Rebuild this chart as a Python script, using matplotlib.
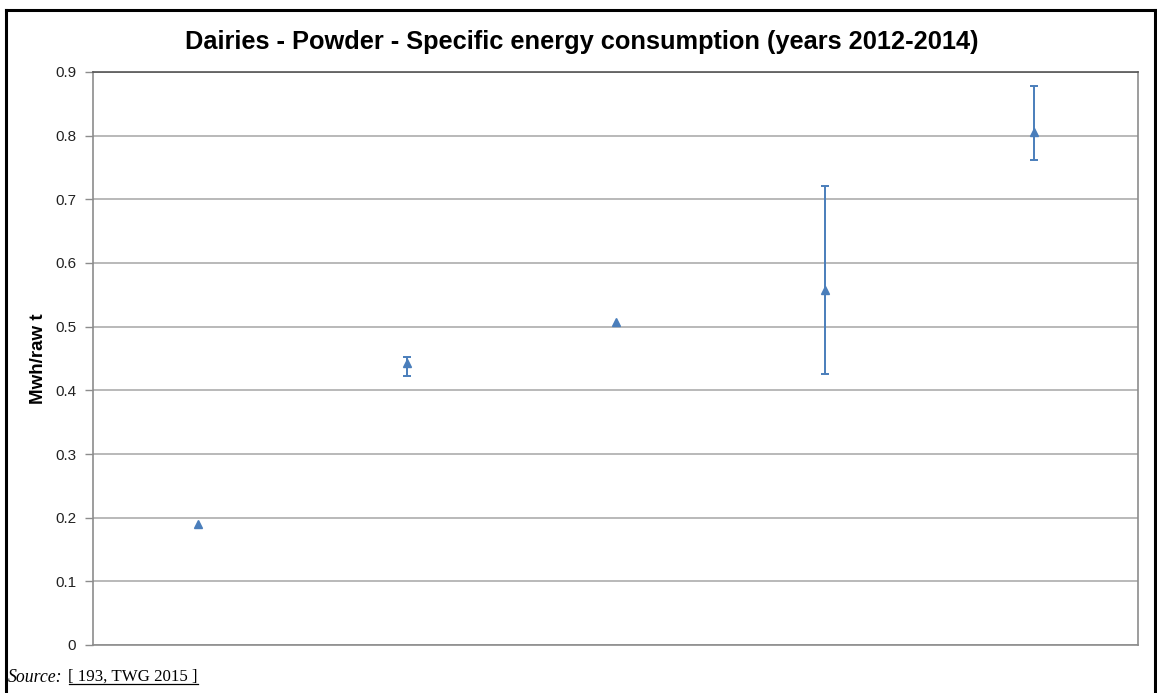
import matplotlib
matplotlib.use("Agg")
import matplotlib.pyplot as plt
from matplotlib.lines import Line2D

# values
positions = [1, 2, 3, 4, 5]
mean_vals = [0.190, 0.443, 0.508, 0.558, 0.806]
low_vals = [0.190, 0.422, 0.508, 0.425, 0.762]
high_vals = [0.190, 0.452, 0.508, 0.721, 0.878]
yticks = [0, 0.1, 0.2, 0.3, 0.4, 0.5, 0.6, 0.7, 0.8, 0.9]

TITLE = "Dairies - Powder - Specific energy consumption (years 2012-2014)"
YLABEL = "Mwh/raw t"
BLUE = "#4a7ebb"

plt.rcParams["font.family"] = ["Liberation Sans", "DejaVu Sans"]

fig = plt.figure(figsize=(11.57, 6.93), dpi=100)
ax = fig.add_axes([93 / 1157, 1 - 645 / 693, (1138 - 93) / 1157, (645 - 72) / 693])

# error bars only where the range is not zero (no caps on single points)
idx = [i for i in range(len(positions)) if high_vals[i] > low_vals[i]]
ax.errorbar([positions[i] for i in idx], [mean_vals[i] for i in idx],
            yerr=[[mean_vals[i] - low_vals[i] for i in idx],
                  [high_vals[i] - mean_vals[i] for i in idx]],
            fmt="none", ecolor=BLUE, elinewidth=1.4, capsize=3, capthick=1.4, zorder=3)
ax.plot(positions, mean_vals, "^", color=BLUE, markersize=6, zorder=4)

ax.set_xlim(0.5, 5.5)
ax.set_ylim(0, 0.9)
ax.set_yticks(yticks)
ax.set_yticklabels([f"{v:g}" for v in yticks], fontsize=11, color="#222222")
ax.set_xticks([])
ax.yaxis.grid(True, color="#a6a6a6", linewidth=1.1)
ax.set_axisbelow(True)
ax.tick_params(axis="y", length=6, width=1, color="#8c8c8c", pad=6)

for side in ["left", "right", "bottom"]:
    ax.spines[side].set_color("#8c8c8c")
    ax.spines[side].set_linewidth(1.2)
ax.spines["top"].set_color("#555555")
ax.spines["top"].set_linewidth(1.2)

ax.set_ylabel(YLABEL, fontsize=13.5, fontweight="bold", labelpad=6)

fig.text(0.503, 1 - 42 / 693, TITLE, ha="center", va="center",
         fontsize=18.3, fontweight="bold")

# outer black frame (left, top, right)
x0, x1, y0 = 6 / 1157, 1155 / 1157, 1 - 10 / 693
fig.add_artist(Line2D([x0, x0], [0, y0], color="black", linewidth=2.2))
fig.add_artist(Line2D([x0, x1], [y0, y0], color="black", linewidth=2.2))
fig.add_artist(Line2D([x1, x1], [0, y0], color="black", linewidth=2.2))

# source note
src1 = fig.text(8 / 1157, 1 - 677 / 693, "Source:", fontsize=12.8, style="italic",
                family="Liberation Serif", va="center")
fig.canvas.draw()
bb = src1.get_window_extent()
src2 = fig.text((bb.x1 + 6) / 1157, 1 - 677 / 693, "[ 193, TWG 2015 ]", fontsize=12.2,
                family="Liberation Serif", va="center")
fig.canvas.draw()
bb2 = src2.get_window_extent()
uy = (bb2.y0 + 1) / 693
fig.add_artist(Line2D([bb2.x0 / 1157, bb2.x1 / 1157], [uy, uy], color="black", linewidth=0.9))

fig.savefig("out.png", dpi=100)
